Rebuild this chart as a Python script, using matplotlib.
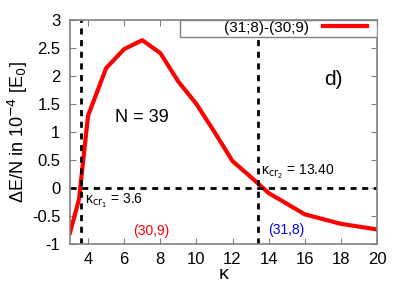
import matplotlib
matplotlib.use("Agg")
import matplotlib.pyplot as plt
from matplotlib.patches import Rectangle

plt.rcParams['font.family'] = ['Liberation Sans', 'DejaVu Sans']

kappa = [3.0, 3.5, 4.0, 5.0, 6.0, 7.0, 8.0, 9.0, 10.0, 11.0, 12.0, 13.0, 14.0, 16.0, 18.0, 20.0]
dE = [-0.80, -0.20, 1.29, 2.14, 2.48, 2.64, 2.41, 1.90, 1.50, 1.00, 0.48, 0.20, -0.09, -0.47, -0.64, -0.74]
kcr1 = 3.6
kcr2 = 13.4

fig = plt.figure(figsize=(4.06, 2.84), dpi=100)
ax = fig.add_axes([70 / 406, 40 / 284, 307 / 406, 224 / 284])

ax.plot(kappa, dE, color="red", linewidth=3, label='(31;8)-(30;9)')
ax.axvline(kcr1, color="black", linestyle=(0, (2.2, 2)), linewidth=2)
ax.axvline(kcr2, color="black", linestyle=(0, (2.2, 2)), linewidth=2)
ax.axhline(0, color="black", linestyle=(0, (2.2, 2)), linewidth=2)

ax.set_xlim(3, 20)
ax.set_ylim(-1, 3)
ax.set_xticks([4, 6, 8, 10, 12, 14, 16, 18, 20])
ax.set_yticks([-1, -0.5, 0, 0.5, 1, 1.5, 2, 2.5, 3])
ax.set_yticklabels(['-1', '-0.5', '0', '0.5', '1', '1.5', '2', '2.5', '3'])
ax.tick_params(direction='in', top=True, right=True, labelsize=12, color='gray', length=4)
ax.tick_params(axis='x', pad=6)
ax.tick_params(axis='y', pad=7)
for s in ax.spines.values():
    s.set_color('gray')
    s.set_linewidth(1.2)

ax.set_xlabel("κ", fontsize=14, labelpad=-1)
ax.set_ylabel("ΔE/N in 10$^{-4}$ [E$_0$]", fontsize=13, labelpad=1)

# key box across the top
ax.add_patch(Rectangle((0.358, 0.924), 0.642, 0.076, transform=ax.transAxes,
                       facecolor='white', edgecolor='gray', linewidth=1, zorder=4))
leg = ax.legend(loc='upper right', fontsize=11, frameon=False,
                borderaxespad=0, handlelength=2.9, handletextpad=0.9, borderpad=0.05,
                markerfirst=False, bbox_to_anchor=(0.97, 1.0))
leg.set_zorder(5)

ax.text(17.56, 1.93, "d)", fontsize=15, ha='center', va='center')
ax.text(7.0, 1.25, "N = 39", fontsize=13, ha='center', va='center')
ax.text(3.85, -0.23, "κ$_{\\mathrm{cr}_1}$ = 3.6", fontsize=10, ha='left', va='center')
ax.text(13.6, 0.29, "κ$_{\\mathrm{cr}_2}$ = 13.40", fontsize=10, ha='left', va='center')
ax.text(7.48, -0.77, "(30,9)", fontsize=10, color='red', ha='center', va='center')
ax.text(14.95, -0.75, "(31,8)", fontsize=10, color='blue', ha='center', va='center')

fig.savefig("out.png", dpi=100)
